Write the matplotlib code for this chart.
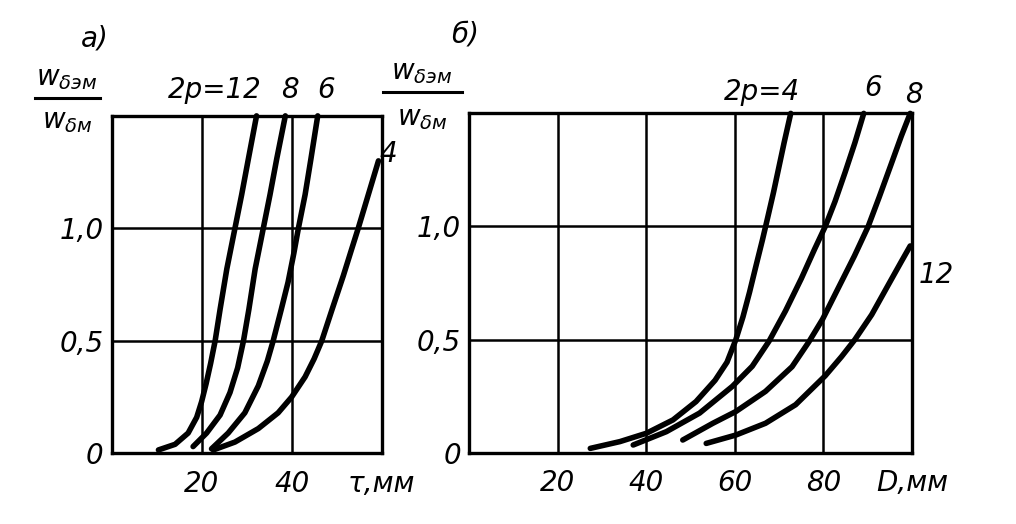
import matplotlib
matplotlib.use('Agg')
import matplotlib.pyplot as plt
from matplotlib.lines import Line2D

plt.rcParams['font.family'] = ['DejaVu Sans']
plt.rcParams['mathtext.fontset'] = 'dejavusans'

# --- panel a): ratio vs pole pitch tau, mm ---
tau_12 = [10.4, 14.1, 17.0, 18.9, 20.0, 21.0, 22.0, 23.0, 24.1, 25.6, 27.4, 28.9, 30.4, 32.2]
ratio_12 = [0.015, 0.04, 0.09, 0.16, 0.23, 0.31, 0.40, 0.5, 0.64, 0.82, 1.0, 1.15, 1.31, 1.5]
tau_8 = [18.1, 21.1, 24.1, 26.3, 28.0, 29.3, 30.5, 31.9, 33.7, 35.2, 36.7, 38.6]
ratio_8 = [0.03, 0.09, 0.17, 0.27, 0.38, 0.5, 0.64, 0.82, 1.0, 1.15, 1.31, 1.5]
tau_6 = [22.2, 25.9, 29.6, 32.6, 34.6, 35.9, 37.7, 39.2, 40.5, 41.5, 43.0, 44.3, 45.8]
ratio_6 = [0.02, 0.09, 0.18, 0.30, 0.41, 0.5, 0.64, 0.76, 0.89, 1.0, 1.15, 1.31, 1.5]
tau_4 = [22.6, 27.4, 32.6, 37.0, 40.0, 43.0, 45.0, 46.7, 49.0, 51.5, 53.3, 54.8, 56.3, 57.8, 59.3]
ratio_4 = [0.015, 0.05, 0.11, 0.18, 0.25, 0.34, 0.42, 0.5, 0.64, 0.79, 0.905, 1.0, 1.10, 1.20, 1.30]

# --- panel б): ratio vs diameter D, mm ---
d_4 = [27.3, 34.0, 40.0, 46.0, 51.2, 55.5, 58.2, 60.2, 61.8, 63.3, 64.8, 66.2, 67.4, 68.7, 69.9, 71.1, 72.6]
rd_4 = [0.019, 0.049, 0.086, 0.145, 0.226, 0.32, 0.40, 0.5, 0.60, 0.71, 0.83, 0.94, 1.04, 1.15, 1.26, 1.37, 1.5]
d_6 = [37.0, 44.5, 52.0, 59.4, 63.9, 67.7, 71.4, 75.0, 78.0, 80.4, 82.6, 84.9, 87.1, 89.1]
rd_6 = [0.034, 0.093, 0.175, 0.293, 0.382, 0.493, 0.626, 0.77, 0.90, 1.0, 1.11, 1.24, 1.37, 1.5]
d_8 = [48.2, 55.0, 60.2, 66.9, 72.9, 76.7, 79.8, 83.4, 87.0, 90.1, 92.6, 95.2, 97.6, 99.6]
rd_8 = [0.056, 0.13, 0.182, 0.271, 0.38, 0.49, 0.59, 0.73, 0.87, 1.0, 1.13, 1.27, 1.40, 1.5]
d_12 = [53.5, 60.2, 66.9, 73.7, 80.4, 84.1, 87.1, 90.9, 94.6, 97.6, 99.6]
rd_12 = [0.041, 0.078, 0.13, 0.212, 0.34, 0.425, 0.5, 0.61, 0.74, 0.845, 0.914]

y_ticks = [0, 0.5, 1.0]
y_labels = ['0', '0,5', '1,0']
tau_ticks = [20, 40, 60]
tau_labels = ['20', '40', 'τ,мм']
d_ticks = [20, 40, 60, 80, 100]
d_labels = ['20', '40', '60', '80', 'D,мм']

FS = 20

fig = plt.figure(figsize=(10.16, 5.24), dpi=100)
ax1 = fig.add_axes([0.1099, 0.1349, 0.2657, 0.644])
ax2 = fig.add_axes([0.4621, 0.1361, 0.4355, 0.6475])


def style(ax, xmax, xticks, xlabels):
    ax.set_xlim(0, xmax)
    ax.set_ylim(0, 1.5)
    ax.set_xticks(xticks)
    ax.set_xticklabels(xlabels, fontsize=FS, fontstyle='italic')
    ax.set_yticks(y_ticks)
    ax.set_yticklabels(y_labels, fontsize=FS, fontstyle='italic')
    ax.tick_params(length=0, pad=12, axis='x')
    ax.tick_params(length=0, pad=6, axis='y')
    ax.grid(True, color='black', linewidth=1.8)
    for s in ax.spines.values():
        s.set_linewidth(2.4)
        s.set_zorder(5)


style(ax1, 60, tau_ticks, tau_labels)
style(ax2, 100, d_ticks, d_labels)

kw = dict(color='black', linewidth=4.0, solid_capstyle='round', solid_joinstyle='round', zorder=4)
for x, y in [(tau_12, ratio_12), (tau_8, ratio_8), (tau_6, ratio_6), (tau_4, ratio_4)]:
    ax1.plot(x, y, clip_on=False, **kw)
for x, y in [(d_4, rd_4), (d_6, rd_6), (d_8, rd_8), (d_12, rd_12)]:
    ax2.plot(x, y, clip_on=False, **kw)

tk = dict(fontsize=FS, fontstyle='italic', ha='center', va='center', clip_on=False)
ax1.text(23.0, 1.615, '2p=12', **tk)
ax1.text(39.6, 1.615, '8', **tk)
ax1.text(47.6, 1.615, '6', **tk)
ax1.text(61.4, 1.33, '4', **tk)
ax2.text(66.1, 1.596, '2p=4', **tk)
ax2.text(91.2, 1.614, '6', **tk)
ax2.text(100.4, 1.58, '8', **tk)
ax2.text(105.4, 0.786, '12', **tk)

# panel letters
fig.text(95 / 1016, 1 - 38 / 524, 'а)', fontsize=FS, fontstyle='italic', ha='center', va='center')
fig.text(465 / 1016, 1 - 35 / 524, 'б)', fontsize=FS, fontstyle='italic', ha='center', va='center')

# y axis fractions  w_δэм / w_δм
num = r'$w_{\delta эм}$'
den = r'$w_{\delta м}$'
for cx, ny, ly, dy, x0, x1 in [(67, 78, 98, 121, 35, 100), (422, 72, 92, 118, 383, 462)]:
    fig.text(cx / 1016, 1 - ny / 524, num, fontsize=FS, ha='center', va='center')
    fig.text(cx / 1016, 1 - dy / 524, den, fontsize=FS, ha='center', va='center')
    fig.add_artist(Line2D([x0 / 1016, x1 / 1016], [1 - ly / 524, 1 - ly / 524],
                          color='black', linewidth=2.2, transform=fig.transFigure))

fig.savefig('out.png', dpi=100, facecolor='white')
